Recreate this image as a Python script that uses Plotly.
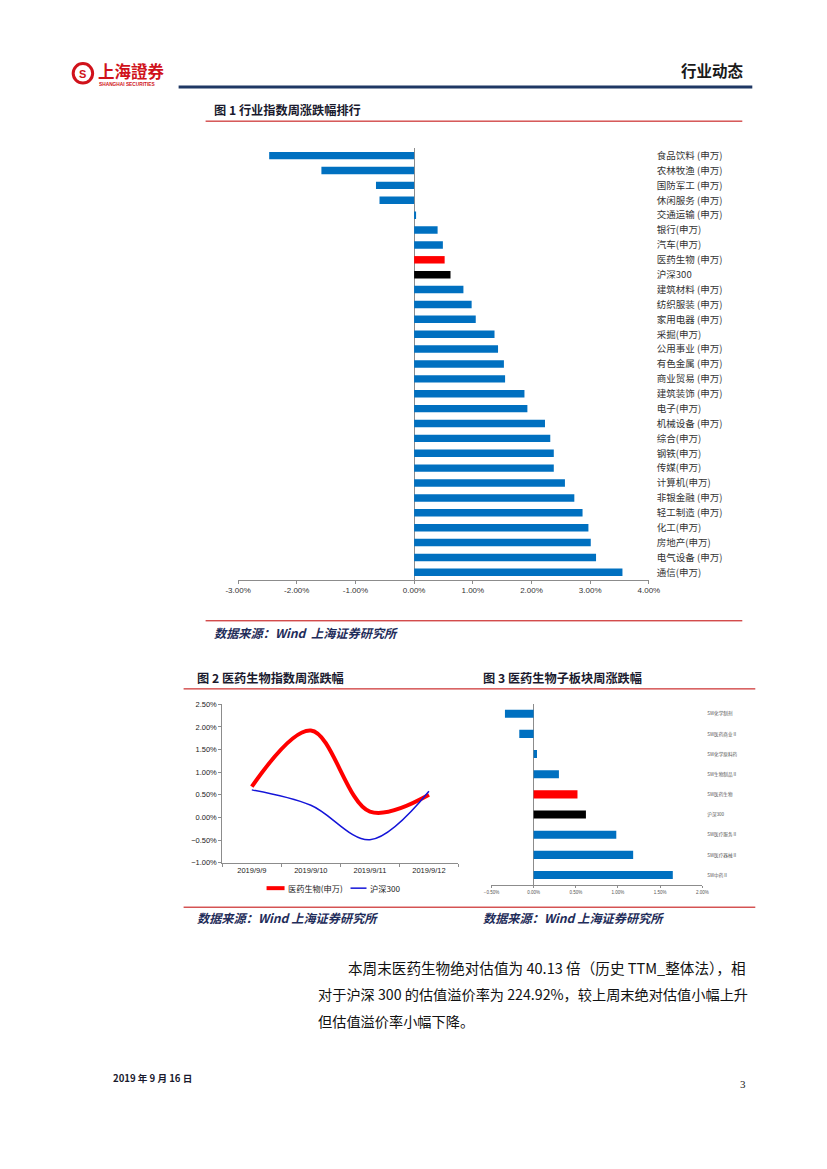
import plotly.graph_objects as go

W, H = 827, 1169
# the photographed page maps design pixels slightly inward; compensate so the
# final picture lands on the reference positions
SX, OX = 0.9715, 12.3
SY, OY = 0.991, 4.0


def px(x):
    return ((x - OX) / SX) / W


def py(y):
    return 1 - ((y - OY) / SY) / H


# ---------------- data ----------------
# Figure 1: industry weekly change (%)
industries = ["食品饮料 (申万)", "农林牧渔 (申万)", "国防军工 (申万)", "休闲服务 (申万)", "交通运输 (申万)",
              "银行(申万)", "汽车(申万)", "医药生物 (申万)", "沪深300", "建筑材料 (申万)",
              "纺织服装 (申万)", "家用电器 (申万)", "采掘(申万)", "公用事业 (申万)", "有色金属 (申万)",
              "商业贸易 (申万)", "建筑装饰 (申万)", "电子(申万)", "机械设备 (申万)", "综合(申万)",
              "钢铁(申万)", "传媒(申万)", "计算机(申万)", "非银金融 (申万)", "轻工制造 (申万)",
              "化工(申万)", "房地产(申万)", "电气设备 (申万)", "通信(申万)"]
industry_chg = [-2.47, -1.58, -0.65, -0.59, 0.02, 0.40, 0.49, 0.52, 0.62, 0.84,
                0.98, 1.05, 1.37, 1.43, 1.53, 1.55, 1.88, 1.93, 2.23, 2.32,
                2.38, 2.38, 2.57, 2.73, 2.87, 2.97, 3.01, 3.10, 3.55]
x1_ticks = [-3, -2, -1, 0, 1, 2, 3, 4]

# Figure 2: daily change (%)
dates = ["2019/9/9", "2019/9/10", "2019/9/11", "2019/9/12"]
pharma_daily = [0.68, 1.92, 0.13, 0.50]
hs300_daily = [0.61, 0.27, -0.49, 0.58]
legend_names = ["医药生物(申万)", "沪深300"]

# Figure 3: sub-sector weekly change (%)
sub_sectors = ["SW化学制剂", "SW医药商业Ⅱ", "SW化学原料药", "SW生物制品Ⅱ", "SW医药生物",
               "沪深300", "SW医疗服务Ⅱ", "SW医疗器械Ⅱ", "SW中药Ⅱ"]
sub_chg = [-0.34, -0.17, 0.04, 0.30, 0.52, 0.62, 0.98, 1.18, 1.65]

# ---------------- styles ----------------
BLUE = "#0070c0"
RED_BAR = "#ff0000"
BLACK = "#000000"
LINE_RED = "#ff0000"
LINE_BLUE = "#1414d8"
NAVY = "#1f2d5a"
RULE_RED = "#c00000"
AXIS_GRAY = "#8c8c8c"
SANS = "Liberation Sans, Arial, sans-serif"
CJK = "Noto Sans CJK SC, sans-serif"


def bar_colors(names, red_name):
    out = []
    for n in names:
        if n.startswith(red_name):
            out.append(RED_BAR)
        elif n.startswith("沪深300"):
            out.append(BLACK)
        else:
            out.append(BLUE)
    return out


fig = go.Figure()

# Figure 1 bars
fig.add_trace(go.Bar(
    x=industry_chg, y=industries, orientation="h", width=0.5,
    marker=dict(color=bar_colors(industries, "医药生物"), line=dict(width=0)),
    xaxis="x", yaxis="y", showlegend=False,
))

# Figure 2 lines
fig.add_trace(go.Scatter(
    x=dates, y=pharma_daily, mode="lines", name=legend_names[0],
    line=dict(color=LINE_RED, width=4, shape="spline", smoothing=1.0),
    xaxis="x2", yaxis="y2", showlegend=False,
))
fig.add_trace(go.Scatter(
    x=dates, y=hs300_daily, mode="lines", name=legend_names[1],
    line=dict(color=LINE_BLUE, width=1.5, shape="spline", smoothing=1.0),
    xaxis="x2", yaxis="y2", showlegend=False,
))

# Figure 3 bars
fig.add_trace(go.Bar(
    x=sub_chg, y=sub_sectors, orientation="h", width=0.4,
    marker=dict(color=bar_colors(sub_sectors, "SW医药生物"), line=dict(width=0)),
    xaxis="x3", yaxis="y3", showlegend=False,
))

# ---------------- axes ----------------
fig.update_layout(
    width=W, height=H,
    margin=dict(l=0, r=0, t=0, b=0),
    paper_bgcolor="white", plot_bgcolor="white",
    showlegend=False,
    font=dict(family=SANS, color="#333333"),
    # Figure 1
    xaxis=dict(
        domain=[px(237.5), px(648.5)], anchor="y",
        range=[-3, 4], tickvals=x1_ticks,
        ticktext=[f"{v:.2f}%" for v in x1_ticks],
        showgrid=False, zeroline=True, zerolinecolor=AXIS_GRAY, zerolinewidth=1,
        showline=True, linecolor=AXIS_GRAY, linewidth=1,
        ticks="outside", ticklen=3, tickcolor=AXIS_GRAY,
        tickfont=dict(size=8, color="#333333", family=SANS),
    ),
    yaxis=dict(
        domain=[py(579), py(148)], anchor="x",
        autorange="reversed", side="right", showgrid=False, showline=False,
        zeroline=False, ticks="", ticklabelstandoff=7,
        tickfont=dict(size=9.5, color="#333333", family=CJK),
    ),
    # Figure 2
    xaxis2=dict(
        domain=[px(221.7), px(458)], anchor="y2",
        type="category", range=[-0.5, 3.5],
        showgrid=False, zeroline=False,
        showline=True, linecolor=AXIS_GRAY, linewidth=1,
        ticks="outside", tickson="boundaries", ticklen=3, tickcolor=AXIS_GRAY,
        tickfont=dict(size=7.5, color="#222222", family=SANS),
    ),
    yaxis2=dict(
        domain=[py(861.7), py(703.3)], anchor="x2",
        range=[-1, 2.5], dtick=0.5, tickformat=".2f", ticksuffix="%",
        showgrid=False, zeroline=False,
        showline=True, linecolor=AXIS_GRAY, linewidth=1,
        ticks="outside", ticklen=3, tickcolor=AXIS_GRAY,
        tickfont=dict(size=7.5, color="#222222", family=SANS),
    ),
    # Figure 3
    xaxis3=dict(
        domain=[px(491), px(702)], anchor="y3",
        range=[-0.5, 2.0], dtick=0.5, tickformat=".2f", ticksuffix="%",
        showgrid=False, zeroline=True, zerolinecolor=AXIS_GRAY, zerolinewidth=1,
        showline=True, linecolor=AXIS_GRAY, linewidth=1,
        ticks="outside", ticklen=2, tickcolor=AXIS_GRAY,
        tickfont=dict(size=4.5, color="#555555", family=SANS),
    ),
    yaxis3=dict(
        domain=[py(884), py(702.7)], anchor="x3",
        autorange="reversed", side="right", showgrid=False, showline=False,
        zeroline=False, ticks="", ticklabelstandoff=4,
        tickfont=dict(size=4.6, color="#555555", family=CJK),
    ),
)

# ---------------- decorations ----------------
shapes = []


def hline(x0, x1, y, color, width):
    shapes.append(dict(type="line", xref="paper", yref="paper",
                       x0=px(x0), x1=px(x1), y0=py(y), y1=py(y),
                       line=dict(color=color, width=width)))


hline(178, 752, 87, "#1f3864", 3)
for (x0, x1, y) in [(205, 742, 121), (205, 742, 620), (183, 755, 688), (183, 755, 906)]:
    hline(x0, x1, y, RULE_RED, 1)
# legend samples for figure 2
hline(266, 284, 887, LINE_RED, 4)
hline(350, 366, 887, LINE_BLUE, 1.5)
# logo ring
shapes.append(dict(type="circle", xref="paper", yref="paper",
                   x0=px(72.5), x1=px(92), y0=py(83), y1=py(63.5),
                   line=dict(color="#d0121b", width=3)))
fig.update_layout(shapes=shapes)

ann = []


def text(x, y, s, size, color="#222222", family=CJK, bold=False, italic=False, anchor="left"):
    if bold:
        s = f"<b>{s}</b>"
    if italic:
        s = f"<i>{s}</i>"
    ann.append(dict(xref="paper", yref="paper", x=px(x), y=py(y), text=s,
                    showarrow=False, xanchor=anchor, yanchor="middle",
                    font=dict(size=size, color=color, family=family)))


# header
text(82.3, 73.5, "S", 11, color="#d0121b", family=SANS, bold=True, anchor="center")
text(95, 71, "上海證券", 16.5, color="#d0121b", bold=True)
text(96, 84, "SHANGHAI SECURITIES", 4.8, color="#d0121b", family=SANS, bold=True)
text(746, 70, "行业动态", 15.5, color="#1a1a1a", bold=True, anchor="right")

# titles
text(211, 110, "图 1 行业指数周涨跌幅排行", 12.2, color="#1a1a2e", bold=True)
text(194, 677, "图 2 医药生物指数周涨跌幅", 12.2, color="#1a1a2e", bold=True)
text(481, 677, "图 3 医药生物子板块周涨跌幅", 12.2, color="#1a1a2e", bold=True)

# legend texts for figure 2
text(285, 887, legend_names[0], 8.2, color="#222222")
text(367, 887, legend_names[1], 8.2, color="#222222")

# sources
text(211, 632, "数据来源：Wind  上海证券研究所", 12.2, color=NAVY, bold=True, italic=True)
text(194, 917, "数据来源：Wind 上海证券研究所", 12.2, color=NAVY, bold=True, italic=True)
text(481, 917, "数据来源：Wind 上海证券研究所", 12.2, color=NAVY, bold=True, italic=True)

# body text
text(345, 966, "本周末医药生物绝对估值为 40.13 倍（历史 TTM_整体法），相", 14.6, color="#111111")
text(315, 993, "对于沪深 300 的估值溢价率为 224.92%，较上周末绝对估值小幅上升", 14.2, color="#111111")
text(315, 1020, "但估值溢价率小幅下降。", 14.2, color="#111111")

# footer
text(110, 1077, "2019 年 9 月 16 日", 9.6, color="#1a1a2e", bold=True)
text(748, 1083, "3", 11, color="#222222", family="Liberation Serif, serif", anchor="right")

fig.update_layout(annotations=ann)

fig.write_html(
    "out.html",
    config={"displayModeBar": False},
    post_script="document.body.style.margin='0';document.body.style.overflow='hidden';",
)
